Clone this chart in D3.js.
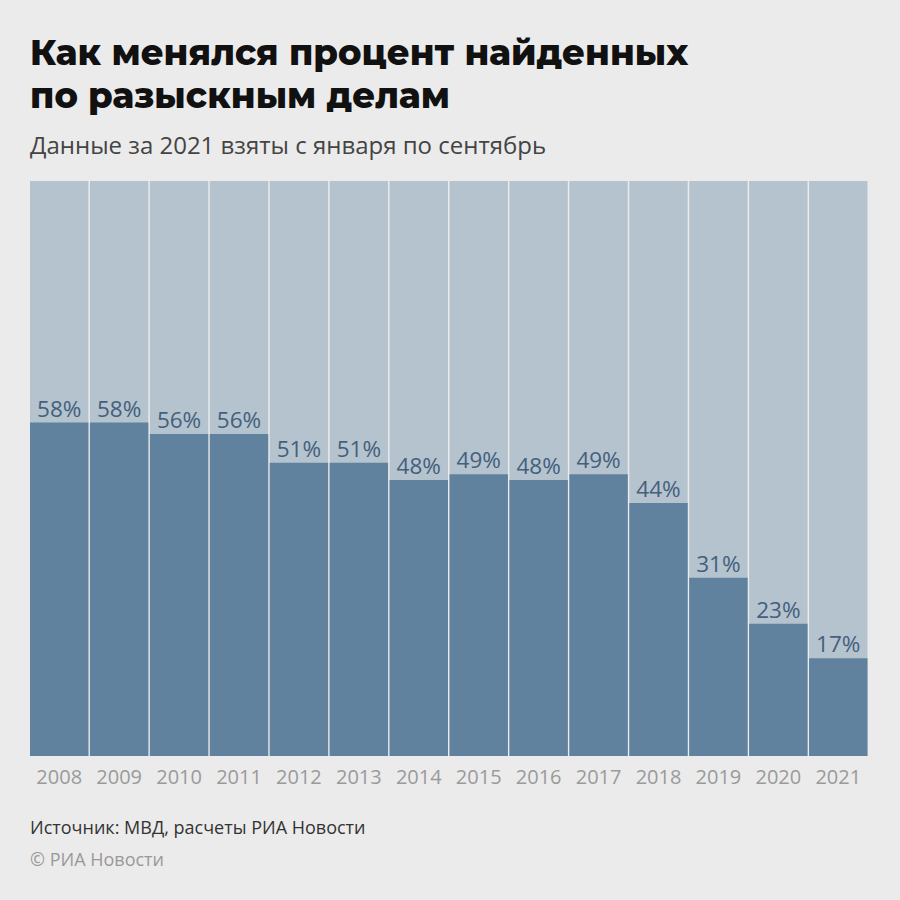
<!DOCTYPE html>
<html><head><meta charset="utf-8">
<script src="https://cdn.jsdelivr.net/npm/d3@7"></script>
<style>body{margin:0;background:#ebebeb}</style>
</head><body>
<script>
const years = ["2008","2009","2010","2011","2012","2013","2014","2015","2016","2017","2018","2019","2020","2021"];
const values = [58,58,56,56,51,51,48,49,48,49,44,31,23,17];
const titleLines = ["Как менялся процент найденных","по разыскным делам"];
const subtitle = "Данные за 2021 взяты с января по сентябрь";
const source = "Источник: МВД, расчеты РИА Новости";
const copyright = "© РИА Новости";

(function(){
const W=900,H=900;
const svg=d3.select("body").append("svg").attr("width",W).attr("height",H);
svg.append("rect").attr("width",W).attr("height",H).attr("fill","#ebebeb");

svg.selectAll("text.title").data(titleLines).join("text").attr("class","title")
  .attr("x",30).attr("y",(d,i)=>65+i*43)
  .attr("font-family","Montserrat, 'Open Sans', sans-serif").attr("font-weight",800)
  .attr("font-size",35.4).attr("fill","#111").text(d=>d);
svg.append("text").attr("x",30).attr("y",154).attr("font-family","'Open Sans', sans-serif")
  .attr("font-size",24).attr("fill","#444").text(subtitle);

const plotTop=181,plotBottom=756,plotLeft=30,plotRight=869;
const x=d3.scaleBand().domain(years).range([plotLeft,plotRight]).padding(0);
const y=d3.scaleLinear().domain([0,100]).range([plotBottom,plotTop]);
const bw=x.bandwidth()-1.5;

const g=svg.append("g");
g.selectAll("rect.bg").data(years).join("rect").attr("class","bg")
  .attr("x",d=>x(d)).attr("y",y(100)).attr("width",bw).attr("height",y(0)-y(100))
  .attr("fill","#b5c3cf");
g.selectAll("rect.fg").data(values).join("rect").attr("class","fg")
  .attr("x",(d,i)=>x(years[i])).attr("y",d=>y(d)).attr("width",bw).attr("height",d=>y(0)-y(d))
  .attr("fill","#61829f");
g.selectAll("text.val").data(values).join("text").attr("class","val")
  .attr("x",(d,i)=>x(years[i])+bw/2).attr("y",d=>y(d)-6)
  .attr("text-anchor","middle").attr("font-family","'Open Sans', sans-serif").attr("font-size",22.5)
  .attr("fill","#44607c").text(d=>d+"%");

const ax=svg.append("g").attr("transform",`translate(0,${plotBottom})`)
  .call(d3.axisBottom(x).tickSize(0).tickPadding(9));
ax.select(".domain").remove();
ax.selectAll("text").attr("font-family","'Open Sans', sans-serif").attr("font-size",20).attr("fill","#9a9a9a")
  .attr("dx",-0.75).attr("dy","0.95em");

svg.append("text").attr("x",30).attr("y",834).attr("font-family","'Open Sans', sans-serif")
  .attr("font-size",18).attr("fill","#333").text(source);
svg.append("text").attr("x",30).attr("y",866).attr("font-family","'Open Sans', sans-serif")
  .attr("font-size",18).attr("fill","#999").text(copyright);
})();
</script>
</body></html>
